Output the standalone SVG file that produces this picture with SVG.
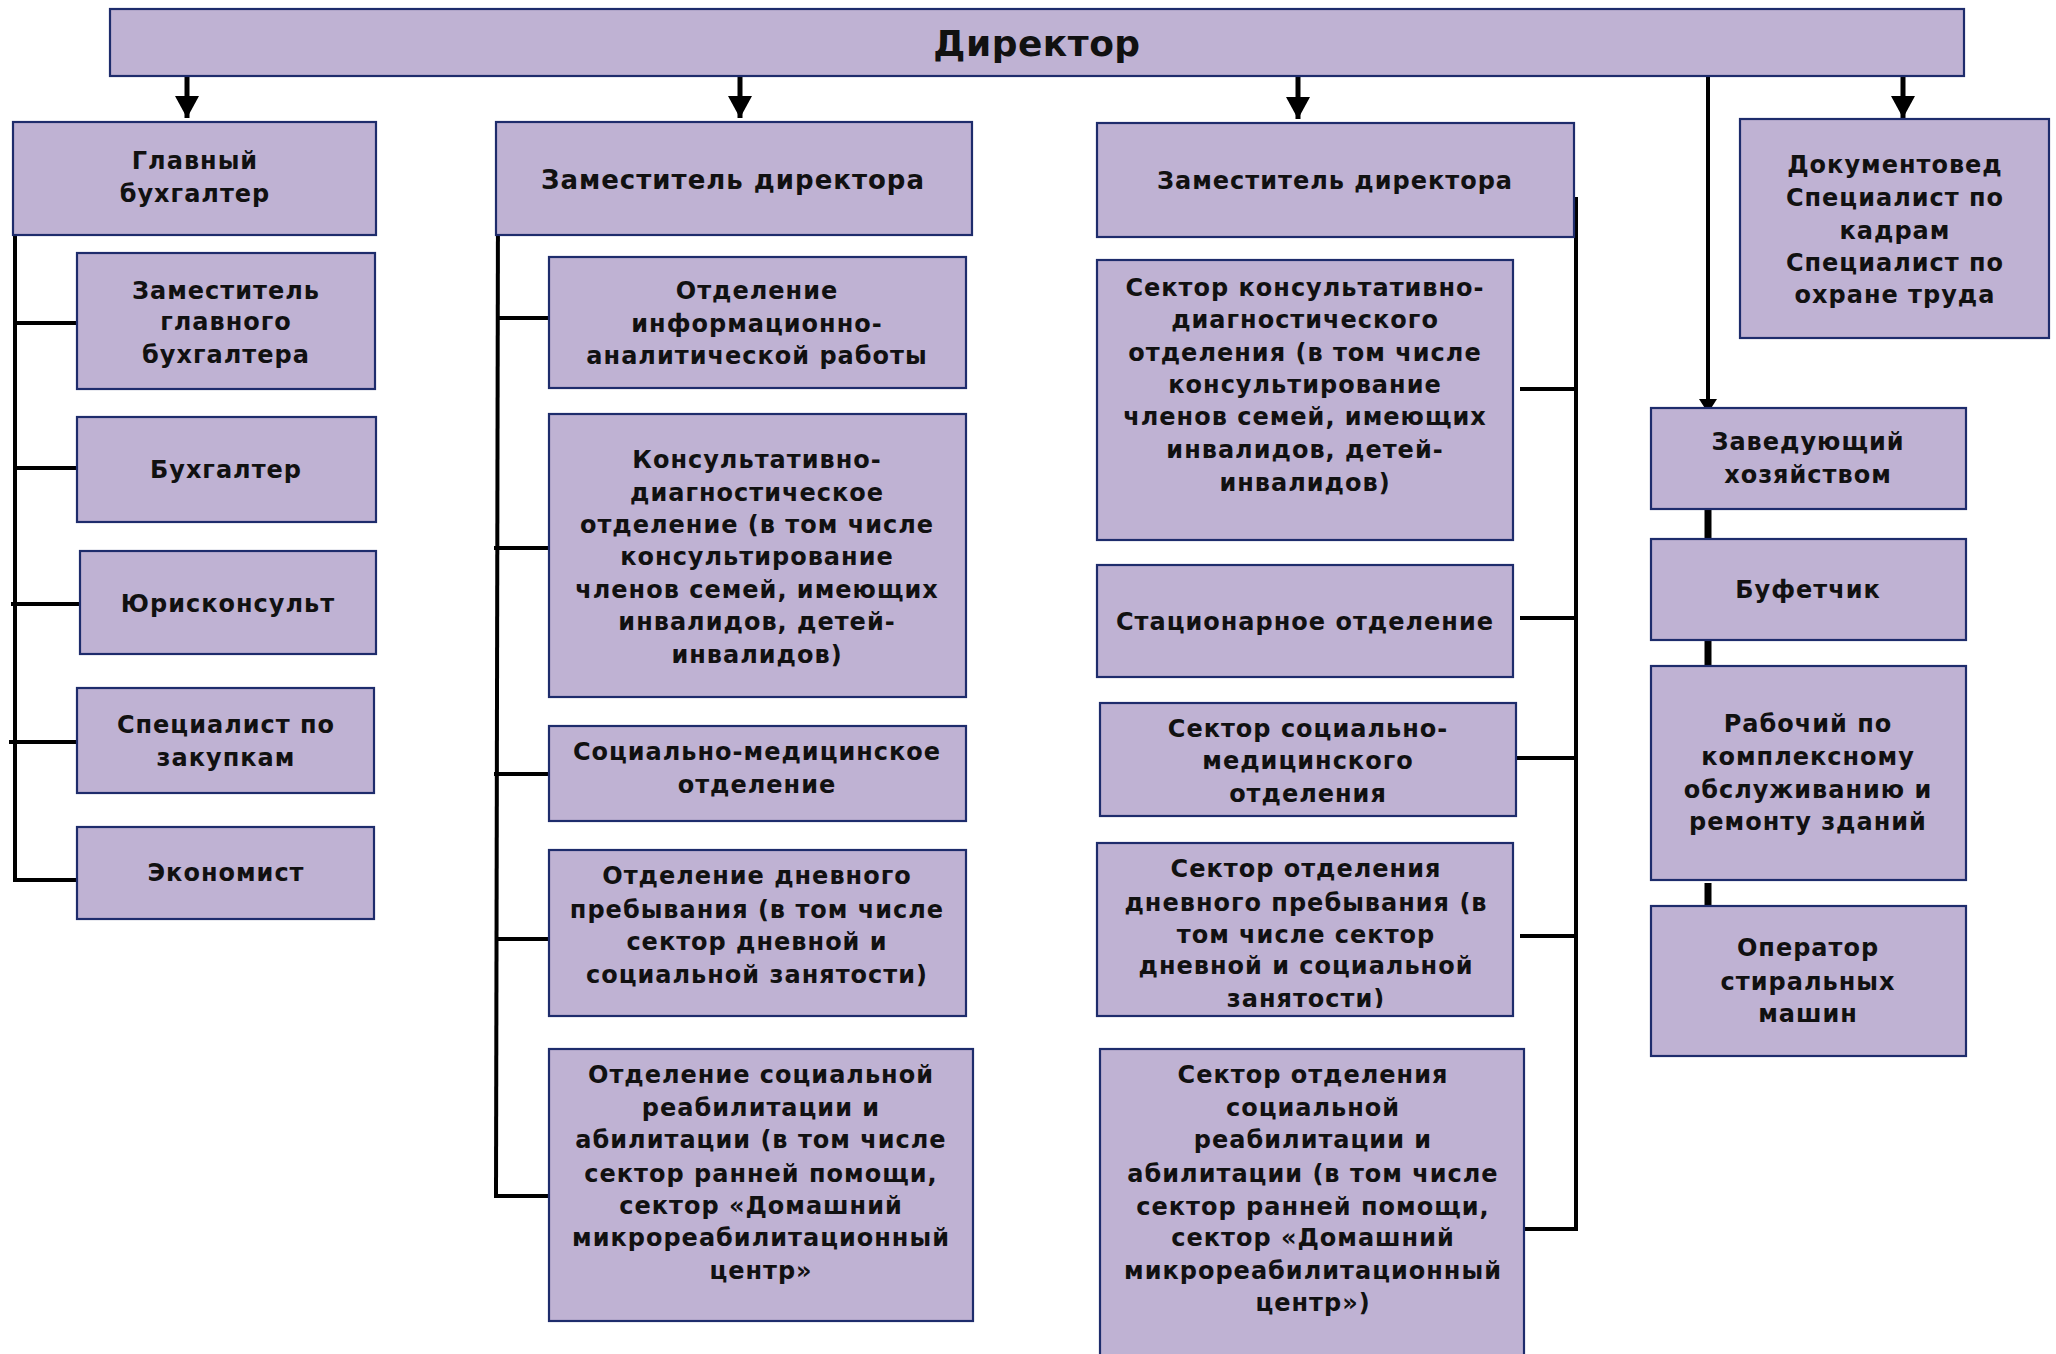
<svg xmlns="http://www.w3.org/2000/svg" width="2056" height="1354" viewBox="0 0 2056 1354">
<style>
.box{fill:#BFB2D3;stroke:#1E2C6C;stroke-width:2.2}
.t{font-family:"DejaVu Sans","Liberation Sans",sans-serif;font-weight:bold;font-size:24px;fill:#111;text-anchor:middle;letter-spacing:1px}
.big{font-size:36px;letter-spacing:0.5px}
.mid{font-size:26px}
.ln{stroke:#000;stroke-width:4;fill:none}
.lnb{stroke:#000;stroke-width:7;fill:none}
.ar{stroke:#000;stroke-width:5;fill:none}
</style>
<defs>
<marker id="ah" markerUnits="userSpaceOnUse" markerWidth="26" markerHeight="24" refX="22" refY="12" orient="auto">
<path d="M0,0 L22,12 L0,24 Z" fill="#000"/>
</marker>
<marker id="ahs" markerUnits="userSpaceOnUse" markerWidth="18" markerHeight="18" refX="14" refY="9" orient="auto">
<path d="M0,0 L14,9 L0,18 Z" fill="#000"/>
</marker>
<clipPath id="clipDay"><rect x="1097" y="843" width="416" height="165"/></clipPath>
</defs>
<rect width="2056" height="1354" fill="#fff"/>

<g id="connectors">
<line class="ar" x1="187" y1="76" x2="187" y2="118" marker-end="url(#ah)"/>
<line class="ar" x1="740" y1="76" x2="740" y2="118" marker-end="url(#ah)"/>
<line class="ar" x1="1298" y1="76" x2="1298" y2="119" marker-end="url(#ah)"/>
<line class="ar" x1="1903" y1="76" x2="1903" y2="118" marker-end="url(#ah)"/>
<line class="ln" x1="1708" y1="76" x2="1708" y2="413" marker-end="url(#ahs)"/>
<!-- left -->
<line class="ln" x1="15" y1="199" x2="15" y2="882"/>
<line class="ln" x1="15" y1="323" x2="79" y2="323"/>
<line class="ln" x1="14" y1="468" x2="77" y2="468"/>
<line class="ln" x1="11" y1="604" x2="84" y2="604"/>
<line class="ln" x1="9" y1="742" x2="77" y2="742"/>
<line class="ln" x1="13" y1="880" x2="81" y2="880"/>
<!-- middle -->
<line class="ln" x1="498" y1="197" x2="496" y2="1198"/>
<line class="ln" x1="497" y1="318" x2="556" y2="318"/>
<line class="ln" x1="494" y1="548" x2="554" y2="548"/>
<line class="ln" x1="494" y1="774" x2="554" y2="774"/>
<line class="ln" x1="496" y1="939" x2="554" y2="939"/>
<line class="ln" x1="494" y1="1196" x2="554" y2="1196"/>
<!-- right middle -->
<line class="ln" x1="1576" y1="197" x2="1576" y2="1231"/>
<line class="ln" x1="1520" y1="389" x2="1578" y2="389"/>
<line class="ln" x1="1520" y1="618" x2="1578" y2="618"/>
<line class="ln" x1="1515" y1="758" x2="1578" y2="758"/>
<line class="ln" x1="1520" y1="936" x2="1578" y2="936"/>
<line class="ln" x1="1524" y1="1229" x2="1578" y2="1229"/>
<!-- right -->
<line class="lnb" x1="1708" y1="509" x2="1708" y2="541"/>
<line class="lnb" x1="1708" y1="641" x2="1708" y2="670"/>
<line class="lnb" x1="1708" y1="883" x2="1708" y2="913"/>
</g>

<g id="director"><rect class="box" x="110" y="9" width="1854" height="67"/><text class="t big" x="1037" y="56">Директор</text></g>

<g id="chief-accountant"><rect class="box" x="13" y="122" width="363" height="113"/><text class="t"><tspan x="195" y="169">Главный</tspan><tspan x="195" y="202">бухгалтер</tspan></text></g>
<g id="deputy-chief-accountant"><rect class="box" x="77" y="253" width="298" height="136"/><text class="t"><tspan x="226" y="299">Заместитель</tspan><tspan x="226" y="330">главного</tspan><tspan x="226" y="363">бухгалтера</tspan></text></g>
<g id="accountant"><rect class="box" x="77" y="417" width="299" height="105"/><text class="t" x="226" y="478">Бухгалтер</text></g>
<g id="legal"><rect class="box" x="80" y="551" width="296" height="103"/><text class="t" x="228" y="612">Юрисконсульт</text></g>
<g id="procurement"><rect class="box" x="77" y="688" width="297" height="105"/><text class="t"><tspan x="226" y="733">Специалист по</tspan><tspan x="226" y="766">закупкам</tspan></text></g>
<g id="economist"><rect class="box" x="77" y="827" width="297" height="92"/><text class="t" x="226" y="881">Экономист</text></g>

<g id="deputy-1"><rect class="box" x="496" y="122" width="476" height="113"/><text class="t mid" x="733" y="189">Заместитель директора</text></g>
<g id="info-dept"><rect class="box" x="549" y="257" width="417" height="131"/><text class="t"><tspan x="757" y="299">Отделение</tspan><tspan x="757" y="332">информационно-</tspan><tspan x="757" y="364">аналитической работы</tspan></text></g>
<g id="consult-dept"><rect class="box" x="549" y="414" width="417" height="283"/><text class="t"><tspan x="757" y="468">Консультативно-</tspan><tspan x="757" y="501">диагностическое</tspan><tspan x="757" y="533">отделение (в том числе</tspan><tspan x="757" y="565">консультирование</tspan><tspan x="757" y="598">членов семей, имеющих</tspan><tspan x="757" y="630">инвалидов, детей-</tspan><tspan x="757" y="663">инвалидов)</tspan></text></g>
<g id="socmed-dept"><rect class="box" x="549" y="726" width="417" height="95"/><text class="t"><tspan x="757" y="760">Социально-медицинское</tspan><tspan x="757" y="793">отделение</tspan></text></g>
<g id="day-dept"><rect class="box" x="549" y="850" width="417" height="166"/><text class="t"><tspan x="757" y="884">Отделение дневного</tspan><tspan x="757" y="918">пребывания (в том числе</tspan><tspan x="757" y="950">сектор дневной и</tspan><tspan x="757" y="983">социальной занятости)</tspan></text></g>
<g id="rehab-dept"><rect class="box" x="549" y="1049" width="424" height="272"/><text class="t"><tspan x="761" y="1083">Отделение социальной</tspan><tspan x="761" y="1116">реабилитации и</tspan><tspan x="761" y="1148">абилитации (в том числе</tspan><tspan x="761" y="1182">сектор ранней помощи,</tspan><tspan x="761" y="1214">сектор «Домашний</tspan><tspan x="761" y="1246">микрореабилитационный</tspan><tspan x="761" y="1279">центр»</tspan></text></g>

<g id="deputy-2"><rect class="box" x="1097" y="123" width="477" height="114"/><text class="t" x="1335" y="189">Заместитель директора</text></g>
<g id="consult-sector"><rect class="box" x="1097" y="260" width="416" height="280"/><text class="t"><tspan x="1305" y="296">Сектор консультативно-</tspan><tspan x="1305" y="328">диагностического</tspan><tspan x="1305" y="361">отделения (в том числе</tspan><tspan x="1305" y="393">консультирование</tspan><tspan x="1305" y="425">членов семей, имеющих</tspan><tspan x="1305" y="458">инвалидов, детей-</tspan><tspan x="1305" y="491">инвалидов)</tspan></text></g>
<g id="inpatient"><rect class="box" x="1097" y="565" width="416" height="112"/><text class="t" x="1305" y="630">Стационарное отделение</text></g>
<g id="socmed-sector"><rect class="box" x="1100" y="703" width="416" height="113"/><text class="t"><tspan x="1308" y="737">Сектор социально-</tspan><tspan x="1308" y="769">медицинского</tspan><tspan x="1308" y="802">отделения</tspan></text></g>
<g id="day-sector"><rect class="box" x="1097" y="843" width="416" height="173"/><text class="t" clip-path="url(#clipDay)"><tspan x="1306" y="877">Сектор отделения</tspan><tspan x="1306" y="911">дневного пребывания (в</tspan><tspan x="1306" y="943">том числе сектор</tspan><tspan x="1306" y="974">дневной и социальной</tspan><tspan x="1306" y="1007">занятости)</tspan></text></g>
<g id="rehab-sector"><rect class="box" x="1100" y="1049" width="424" height="320"/><text class="t"><tspan x="1313" y="1083">Сектор отделения</tspan><tspan x="1313" y="1116">социальной</tspan><tspan x="1313" y="1148">реабилитации и</tspan><tspan x="1313" y="1182">абилитации (в том числе</tspan><tspan x="1313" y="1215">сектор ранней помощи,</tspan><tspan x="1313" y="1246">сектор «Домашний</tspan><tspan x="1313" y="1279">микрореабилитационный</tspan><tspan x="1313" y="1311">центр»)</tspan></text></g>

<g id="hr-group"><rect class="box" x="1740" y="119" width="309" height="219"/><text class="t"><tspan x="1895" y="173">Документовед</tspan><tspan x="1895" y="206">Специалист по</tspan><tspan x="1895" y="239">кадрам</tspan><tspan x="1895" y="271">Специалист по</tspan><tspan x="1895" y="303">охране труда</tspan></text></g>
<g id="facilities-manager"><rect class="box" x="1651" y="408" width="315" height="101"/><text class="t"><tspan x="1808" y="450">Заведующий</tspan><tspan x="1808" y="483">хозяйством</tspan></text></g>
<g id="barman"><rect class="box" x="1651" y="539" width="315" height="101"/><text class="t" x="1808" y="598">Буфетчик</text></g>
<g id="maintenance"><rect class="box" x="1651" y="666" width="315" height="214"/><text class="t"><tspan x="1808" y="732">Рабочий по</tspan><tspan x="1808" y="765">комплексному</tspan><tspan x="1808" y="798">обслуживанию и</tspan><tspan x="1808" y="830">ремонту зданий</tspan></text></g>
<g id="laundry"><rect class="box" x="1651" y="906" width="315" height="150"/><text class="t"><tspan x="1808" y="956">Оператор</tspan><tspan x="1808" y="990">стиральных</tspan><tspan x="1808" y="1022">машин</tspan></text></g>
</svg>
